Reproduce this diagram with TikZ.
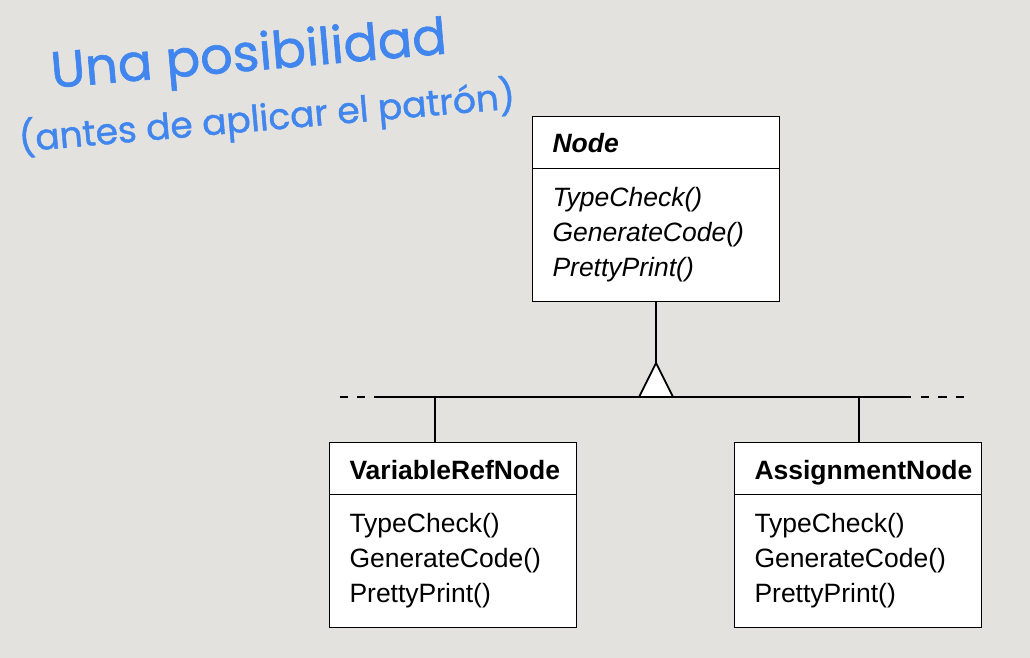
\documentclass[tikz,border=0pt]{standalone}
\usepackage{fontspec}
\setmainfont{Liberation Sans}
\newfontfamily\handfont[FakeBold=1.2]{Poppins}
\usetikzlibrary{positioning}
\definecolor{slidebg}{RGB}{227,226,223}
\definecolor{chalkblue}{RGB}{64,134,238}
\tikzset{
  classhead/.style={draw, line width=1.8pt, fill=white, outer sep=0pt,
    minimum width=247, minimum height=52, text width=207, inner xsep=20,
    text height=21, text depth=0,
    align=left, font=\fontsize{26.5}{35}\selectfont\bfseries},
  classbody/.style={draw, line width=1.8pt, fill=white, outer sep=0pt,
    minimum width=247, minimum height=133, text width=207, inner xsep=20,
    align=left, font=\fontsize{26.5}{35}\selectfont},
  hand/.style={text=chalkblue, font=\handfont\fontsize{51}{51}\selectfont, rotate=5},
  inherit/.style={line width=1.8pt},
}
\begin{document}
\begin{tikzpicture}[x=1pt,y=-1pt]
\fill[slidebg] (0,0) rectangle (1030,658);
\useasboundingbox (0,0) rectangle (1030,658);
%% handwritten title
\node[hand] (title) at (249,58) {Una posibilidad};
\node[hand, font=\handfont\fontsize{36}{36}\selectfont] (subtitle) at (267,118) {(antes de aplicar el patrón)};
%% abstract class
\node[classhead] (nodeHead) at (656,142.5) {\itshape Node};
\node[classbody, below=0pt of nodeHead] (nodeBody) {\itshape TypeCheck()\\\itshape GenerateCode()\\\itshape PrettyPrint()};
%% subclasses
\node[classhead] (varHead) at (453,468.5) {VariableRefNode};
\node[classbody, below=0pt of varHead] (varBody) {TypeCheck()\\GenerateCode()\\PrettyPrint()};
\node[classhead] (assignHead) at (858,468.5) {AssignmentNode};
\node[classbody, below=0pt of assignHead] (assignBody) {TypeCheck()\\GenerateCode()\\PrettyPrint()};
%% generalization
\coordinate (apex) at (656,363);
\coordinate (barL) at (374,397);
\coordinate (barR) at (911,397);
\coordinate (tapL) at (435,397);
\coordinate (tapR) at (859,397);
\draw[inherit] (nodeBody) -- (apex);
\draw[inherit] (barL) -- (barR);
\draw[inherit, dash pattern=on 8 off 9.5] (339.5,397) -- (barL);
\draw[inherit, dash pattern=on 8.5 off 9] (920.5,397) -- (965,397);
\draw[inherit, fill=white, line join=miter] (apex) -- (639,397) -- (673,397) -- cycle;
\draw[inherit] (tapL) -- (tapL |- varHead.north);
\draw[inherit] (tapR) -- (tapR |- assignHead.north);
%
\end{tikzpicture}
\end{document}
